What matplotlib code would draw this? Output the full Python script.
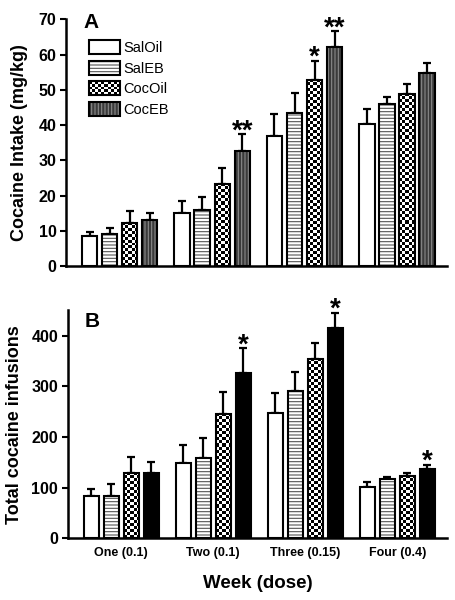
import numpy as np
import matplotlib
matplotlib.use("Agg")
import matplotlib.pyplot as plt
import matplotlib.patches as mpatches
from matplotlib.legend_handler import HandlerTuple

plt.rcParams["font.family"] = ["Liberation Sans", "DejaVu Sans"]
plt.rcParams["hatch.linewidth"] = 0.8

weeks = ["One (0.1)", "Two (0.1)", "Three (0.15)", "Four (0.4)"]
groups = ["SalOil", "SalEB", "CocOil", "CocEB"]

# Panel A: cocaine intake (mg/kg), mean and top of SEM bar
intake_mean = {
    "SalOil": [8.5, 15.1, 36.9, 40.2],
    "SalEB": [9.1, 16.0, 43.4, 46.0],
    "CocOil": [12.4, 23.3, 52.8, 48.8],
    "CocEB": [13.0, 32.7, 62.2, 54.7],
}
intake_top = {
    "SalOil": [9.7, 18.4, 43.1, 44.5],
    "SalEB": [11.0, 19.6, 49.2, 47.9],
    "CocOil": [15.7, 28.0, 58.2, 51.6],
    "CocEB": [15.1, 37.4, 66.6, 57.5],
}
intake_stars = {("CocEB", 1): "**", ("CocOil", 2): "*", ("CocEB", 2): "**"}

# Panel B: total cocaine infusions
inf_mean = {
    "SalOil": [83.5, 149.3, 246.7, 100.7],
    "SalEB": [83.5, 158.0, 290.8, 116.4],
    "CocOil": [129.6, 245.0, 354.0, 123.7],
    "CocEB": [129.6, 325.7, 415.0, 136.8],
}
inf_top = {
    "SalOil": [96.7, 184.0, 287.5, 110.5],
    "SalEB": [106.6, 198.7, 329.0, 120.4],
    "CocOil": [160.0, 289.5, 384.9, 128.0],
    "CocEB": [150.7, 375.0, 445.4, 144.7],
}
inf_stars = {("CocEB", 1): "*", ("CocEB", 2): "*", ("CocEB", 3): "*"}

width = 0.165
step = 0.217
x = np.arange(len(weeks))


def checker(ax, x0, y0, w, h, px=3.0, zorder=1.5):
    p0 = ax.transData.transform((x0, y0))
    p1 = ax.transData.transform((x0 + w, y0 + h))
    nx = max(1, int(round(abs(p1[0] - p0[0]) / px)))
    ny = max(1, int(round(abs(p1[1] - p0[1]) / px)))
    img = np.indices((ny, nx)).sum(axis=0) % 2
    ax.imshow(img, cmap="gray", extent=(x0, x0 + w, y0, y0 + h), aspect="auto",
              interpolation="nearest", origin="lower", zorder=zorder, vmin=0, vmax=1)


def panel(ax, means, tops, stars, ylim, yticks, coceb_dark):
    ax.set_xlim(-0.58, 3.54)
    ax.set_ylim(*ylim)
    ax.set_autoscale_on(False)
    for i, g in enumerate(groups):
        xs = x + (i - 1.5) * step
        m = np.array(means[g])
        t = np.array(tops[g])
        ax.errorbar(xs, m, yerr=[np.zeros_like(m), t - m], fmt="none", ecolor="black",
                    elinewidth=1.6, capsize=2.6, capthick=1.6, zorder=0.5)
        if g == "SalOil":
            ax.bar(xs, m, width, facecolor="white", edgecolor="black", linewidth=1.5, zorder=2)
        elif g == "SalEB":
            ax.bar(xs, m, width, facecolor="white", edgecolor="#555555", hatch="-----",
                   linewidth=0, zorder=1)
            ax.bar(xs, m, width, facecolor="none", edgecolor="black", linewidth=1.5, zorder=2)
        elif g == "CocOil":
            ax.bar(xs, m, width, facecolor="white", edgecolor="none", zorder=1)
            for xi, mi in zip(xs, m):
                checker(ax, xi - width / 2, 0, width, mi)
            ax.bar(xs, m, width, facecolor="none", edgecolor="black", linewidth=1.5, zorder=2)
        else:
            if coceb_dark:
                ax.bar(xs, m, width, facecolor="#3a3a3a", edgecolor="#8a8a8a", hatch="|||||",
                       linewidth=0, zorder=1)
                ax.bar(xs, m, width, facecolor="none", edgecolor="black", linewidth=1.5, zorder=2)
            else:
                ax.bar(xs, m, width, facecolor="black", edgecolor="black", linewidth=1.5, zorder=2)
        for wi in range(len(weeks)):
            s = stars.get((g, wi))
            if s:
                ax.annotate(s, (xs[wi], t[wi]), xytext=(0, -3), textcoords="offset points",
                            ha="center", va="baseline", fontsize=20, fontweight="bold")
    ax.set_yticks(yticks)
    ax.spines["top"].set_visible(False)
    ax.spines["right"].set_visible(False)
    ax.spines["left"].set_linewidth(1.8)
    ax.spines["bottom"].set_linewidth(1.8)
    ax.tick_params(axis="y", direction="out", length=4, width=1.5, labelsize=11.5, pad=3)
    ax.tick_params(axis="x", length=0)
    for lab in ax.get_yticklabels():
        lab.set_fontweight("bold")


fig = plt.figure(figsize=(4.56, 6.0), dpi=100)
axA = fig.add_axes([0.145, 0.556, 0.835, 0.412])
axB = fig.add_axes([0.149, 0.103, 0.831, 0.38])

panel(axA, intake_mean, intake_top, intake_stars, (0, 70), range(0, 71, 10), True)
panel(axB, inf_mean, inf_top, inf_stars, (0, 450), range(0, 401, 100), False)

axA.set_xticks([])
axB.set_xticks(x)
axB.set_xticklabels(weeks, fontsize=9, fontweight="bold")
axB.tick_params(axis="x", pad=6)

axA.set_ylabel("Cocaine Intake (mg/kg)", fontsize=13, fontweight="bold")
axB.set_ylabel("Total cocaine infusions", fontsize=13, fontweight="bold")
axA.yaxis.set_label_coords(-0.1, 0.5)
axB.yaxis.set_label_coords(-0.119, 0.5)
axB.set_xlabel("Week (dose)", fontsize=13.5, fontweight="bold", labelpad=12)

axA.text(0.045, 1.026, "A", transform=axA.transAxes, fontsize=15, fontweight="bold", va="top")
axB.text(0.045, 0.99, "B", transform=axB.transAxes, fontsize=15, fontweight="bold", va="top")

h_saloil = mpatches.Patch(facecolor="white", edgecolor="black", linewidth=1.5)
h_saleb = (mpatches.Patch(facecolor="white", edgecolor="#555555", hatch="-----", linewidth=0),
           mpatches.Patch(facecolor="none", edgecolor="black", linewidth=1.5))
h_cocoil = mpatches.Patch(facecolor="none", edgecolor="black", linewidth=1.5)
h_coceb = (mpatches.Patch(facecolor="#3a3a3a", edgecolor="#8a8a8a", hatch="|||||", linewidth=0),
           mpatches.Patch(facecolor="none", edgecolor="black", linewidth=1.5))
leg = axA.legend([h_saloil, h_saleb, h_cocoil, h_coceb], groups,
                 handler_map={tuple: HandlerTuple(ndivide=1)},
                 loc="upper left", bbox_to_anchor=(0.046, 0.94), borderaxespad=0,
                 frameon=False, fontsize=10.5, handlelength=2.1, handleheight=1.1,
                 handletextpad=0.25, labelspacing=0.4)

fig.canvas.draw()
bb = leg.legend_handles[2].get_window_extent()
inv = axA.transData.inverted()
(lx0, ly0), (lx1, ly1) = inv.transform([(bb.x0, bb.y0), (bb.x1, bb.y1)])
checker(axA, lx0, ly0, lx1 - lx0, ly1 - ly0, zorder=4)

fig.savefig("out.png", dpi=100)
